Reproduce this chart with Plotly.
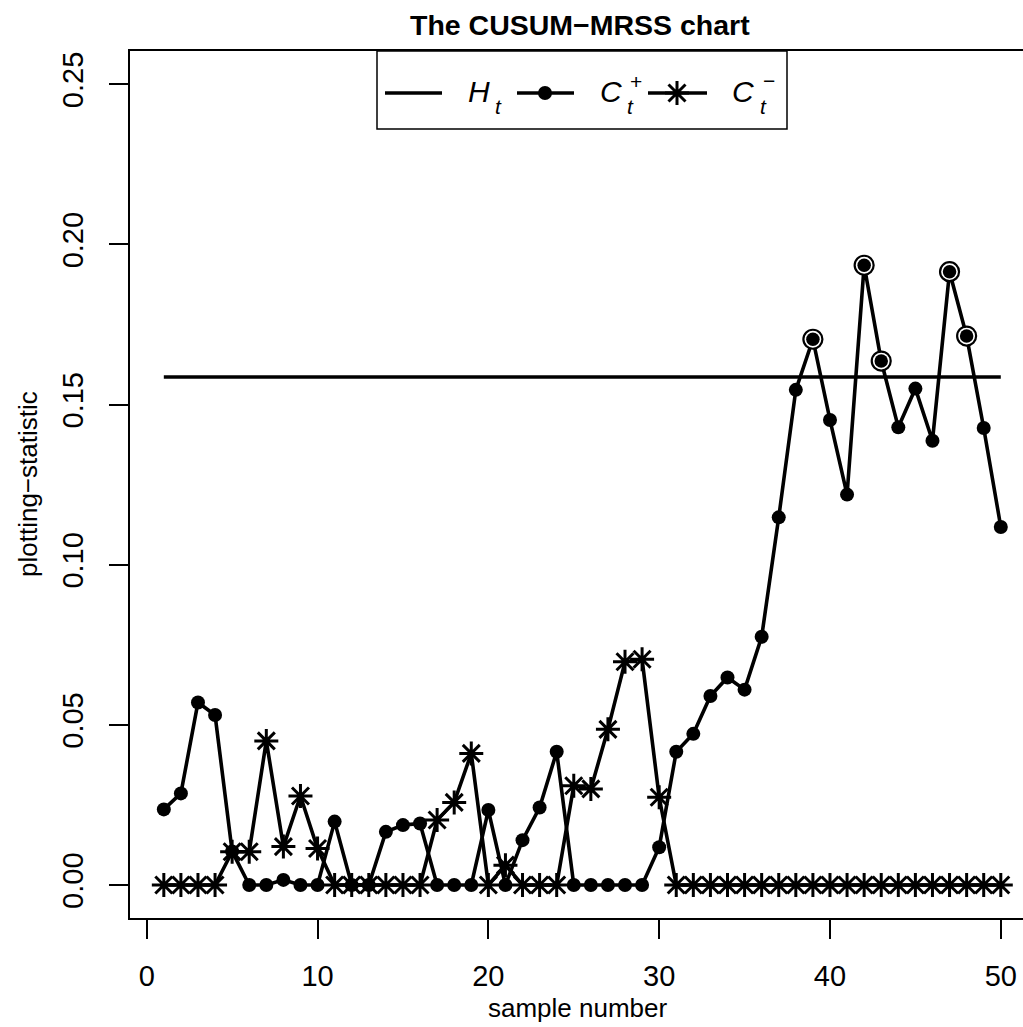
import plotly.graph_objects as go

sample = list(range(1, 51))
c_plus = [0.0236, 0.0286, 0.0570, 0.0531, 0.0105, 0.0, 0.0, 0.0016, 0.0, 0.0,
          0.0198, 0.0, 0.0, 0.0166, 0.0187, 0.0192, 0.0, 0.0, 0.0, 0.0234,
          0.0, 0.0140, 0.0242, 0.0416, 0.0, 0.0, 0.0, 0.0, 0.0, 0.0118,
          0.0416, 0.0472, 0.0590, 0.0648, 0.0610, 0.0775, 0.1148, 0.1546, 0.1704, 0.1452,
          0.1219, 0.1935, 0.1636, 0.1429, 0.1550, 0.1387, 0.1915, 0.1714, 0.1427, 0.1118]
c_minus = [0.0, 0.0, 0.0, 0.0, 0.0104, 0.0104, 0.0450, 0.0120, 0.0278, 0.0114,
           0.0, 0.0, 0.0, 0.0, 0.0, 0.0, 0.0203, 0.0258, 0.0411, 0.0,
           0.0062, 0.0, 0.0, 0.0, 0.0310, 0.0300, 0.0486, 0.0697, 0.0705, 0.0274,
           0.0, 0.0, 0.0, 0.0, 0.0, 0.0, 0.0, 0.0, 0.0, 0.0,
           0.0, 0.0, 0.0, 0.0, 0.0, 0.0, 0.0, 0.0, 0.0, 0.0]
h_limit = 0.1586
x_ticks = [0, 10, 20, 30, 40, 50]
y_ticks = [0.00, 0.05, 0.10, 0.15, 0.20, 0.25]

FONT = "Liberation Sans"
W, H = 1023, 1027
L, R, T, B = 130, 0, 51, 109
LW = 3.6

def px(xp):
    return (xp - L) / (W - L - R)

def py(yp):
    return (H - B - yp) / (H - T - B)

out_x = [s for s, v in zip(sample, c_plus) if v > h_limit]
out_y = [v for v in c_plus if v > h_limit]

star = dict(symbol="asterisk-open", size=20, color="black", line=dict(color="black", width=3))
dot = dict(symbol="circle", size=14, color="black")

fig = go.Figure()
fig.add_trace(go.Scatter(x=[sample[0], sample[-1]], y=[h_limit, h_limit], mode="lines",
                         line=dict(color="black", width=LW), showlegend=False))
fig.add_trace(go.Scatter(x=sample, y=c_plus, mode="lines+markers",
                         line=dict(color="black", width=LW), marker=dot, showlegend=False))
fig.add_trace(go.Scatter(x=sample, y=c_minus, mode="lines+markers",
                         line=dict(color="black", width=LW), marker=star, showlegend=False))
fig.add_trace(go.Scatter(x=out_x, y=out_y, mode="markers",
                         marker=dict(symbol="circle", size=19, color="white",
                                     line=dict(color="black", width=2.2)), showlegend=False))
fig.add_trace(go.Scatter(x=out_x, y=out_y, mode="markers",
                         marker=dict(symbol="circle", size=13.5, color="black"), showlegend=False))

# custom legend (pixel overlay axes)
LY = 93
fig.add_trace(go.Scatter(x=[517, 574], y=[LY, LY], xaxis="x2", yaxis="y2", mode="lines",
                         line=dict(color="black", width=LW), showlegend=False, hoverinfo="skip"))
fig.add_trace(go.Scatter(x=[545], y=[LY], xaxis="x2", yaxis="y2", mode="markers",
                         marker=dot, showlegend=False, hoverinfo="skip"))
fig.add_trace(go.Scatter(x=[648, 707], y=[LY, LY], xaxis="x2", yaxis="y2", mode="lines",
                         line=dict(color="black", width=LW), showlegend=False, hoverinfo="skip"))
fig.add_trace(go.Scatter(x=[677], y=[LY], xaxis="x2", yaxis="y2", mode="markers",
                         marker=star, showlegend=False, hoverinfo="skip"))

shapes = [
    dict(type="rect", xref="x2", yref="y2", x0=377, x1=787, y0=51, y1=129,
         line=dict(color="black", width=1.5), fillcolor="rgba(0,0,0,0)", layer="below"),
    dict(type="line", xref="x2", yref="y2", x0=385, x1=442, y0=LY, y1=LY,
         line=dict(color="black", width=LW)),
]

def ann(text, x, y, size, **kw):
    d = dict(text=text, x=x, y=y, xref="x2", yref="y2", showarrow=False,
             xanchor="center", yanchor="middle",
             font=dict(family=FONT, size=size, color="black"))
    d.update(kw)
    return d

def pann(text, x, y, size, **kw):
    d = dict(text=text, x=px(x), y=py(y), xref="paper", yref="paper", showarrow=False,
             xanchor="center", yanchor="middle",
             font=dict(family=FONT, size=size, color="black"))
    d.update(kw)
    return d

annotations = [
    ann("<i>H</i>", 479, 91, 30), ann("<i>t</i>", 498, 106, 21),
    ann("<i>C</i>", 611, 91, 30), ann("<i>t</i>", 630, 106, 21), ann("+", 636, 81, 21),
    ann("<i>C</i>", 743, 91, 30), ann("<i>t</i>", 763, 106, 21), ann("\u2212", 769, 80, 21),
    pann("<b>The CUSUM\u2212MRSS chart</b>", 580, 25, 28.5),
    pann("sample number", 578, 1008, 26),
    pann("plotting\u2212statistic", 28, 484, 26, textangle=-90),
]

fig.update_layout(
    width=W, height=H, margin=dict(l=L, r=R, t=T, b=B),
    paper_bgcolor="white", plot_bgcolor="white",
    font=dict(family=FONT, color="black"),
    shapes=shapes, annotations=annotations,
    xaxis=dict(range=[-0.98, 51.3], tickvals=x_ticks, ticks="outside", ticklen=19,
               tickwidth=1.5, tickcolor="black", showline=True, mirror=True,
               linecolor="black", linewidth=1.5, showgrid=False, zeroline=False,
               tickfont=dict(family=FONT, size=29), ticklabelstandoff=12),
    yaxis=dict(range=[-0.0103, 0.2604], tickvals=y_ticks, tickformat=".2f", tickangle=-90,
               ticks="outside", ticklen=19, tickwidth=1.5, tickcolor="black",
               showline=True, mirror=False, linecolor="black", linewidth=1.5,
               showgrid=False, zeroline=False, tickfont=dict(family=FONT, size=29),
               ticklabelstandoff=15),
    xaxis2=dict(overlaying="x", anchor="y2", range=[130, 1023], visible=False),
    yaxis2=dict(overlaying="y", anchor="x2", range=[918, 51], visible=False),
)

fig.write_html("out.html")
